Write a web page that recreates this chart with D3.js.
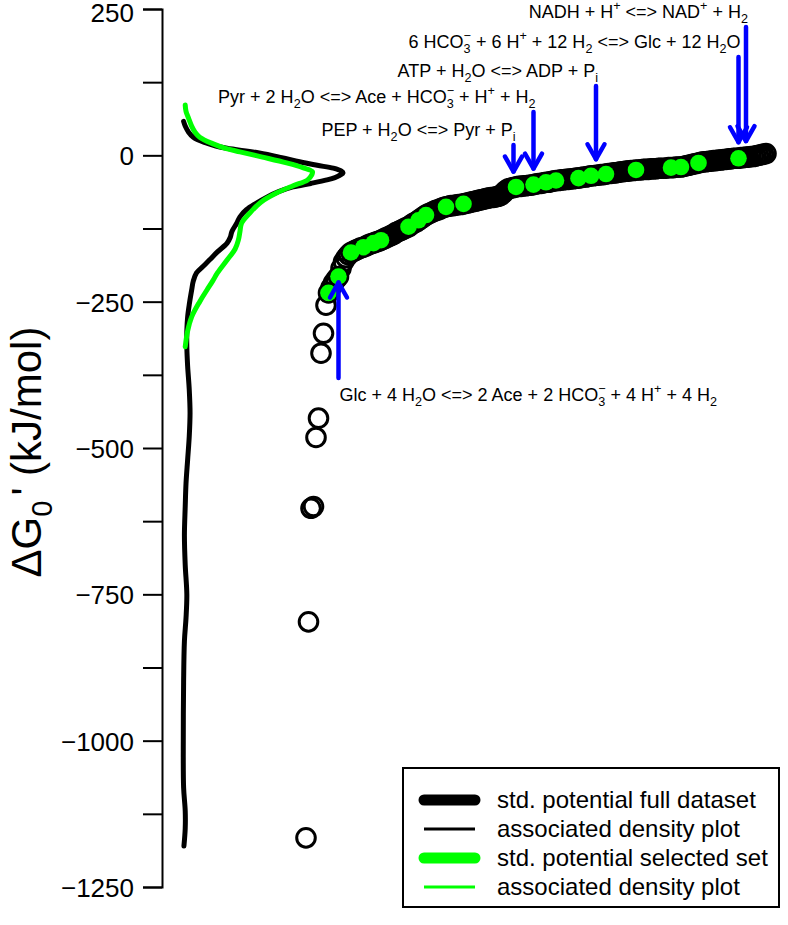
<!DOCTYPE html>
<html><head><meta charset="utf-8">
<script src="https://cdn.jsdelivr.net/npm/d3@7"></script>
<style>
body{margin:0;background:#fff}
svg{display:block}
text{font-family:"Liberation Sans",Arial,Helvetica,sans-serif;fill:#000}
</style></head>
<body><svg id="c" width="788" height="925"></svg>
<script>
// ---------------- DATA ----------------
// standard potentials of the full dataset, sorted (kJ/mol), plotted against rank
const fullValues = [
 -1166, -797, -603, -600, -482, -449, -338, -304, -256, -235,
 -226, -218, -212, -207, -193, -182, -175, -170, -166, -164,
 -162, -160, -158, -157, -155, -153, -151, -150, -148, -147,
 -145, -143, -141, -139, -137, -135, -132, -130, -128, -126,
 -124, -122, -119, -116, -114, -111, -108, -105, -102, -100,
 -98, -96, -94, -93, -91, -89, -88, -87, -86, -86,
 -85, -84, -84, -83, -82, -81, -80, -79, -78, -77,
 -76, -75, -74, -73, -72, -72, -71, -70, -68, -64,
 -60, -57, -56, -55, -54, -53, -53, -52, -52, -51,
 -51, -50, -49, -48, -48, -47, -46, -46, -45, -44,
 -43, -43, -42, -42, -41, -41, -40, -40, -39, -39,
 -38, -37, -37, -36, -35, -35, -34, -34, -33, -33,
 -32, -31, -31, -30, -30, -29, -28, -28, -27, -27,
 -26, -26, -25, -25, -25, -24, -24, -24, -23, -23,
 -23, -22, -22, -22, -22, -21, -21, -21, -20, -20,
 -20, -19, -18, -17, -16, -15, -14, -13, -12, -11,
 -11, -10, -10, -9, -9, -8, -8, -7, -7, -6,
 -6, -5, -5, -5, -4, -4, -3, -3, -2, -2,
 -1, 0, 1, 2, 3
];
// ranks (in the full dataset) of the selected set
const selectedRanks = [9, 13, 18, 23, 27, 30, 41, 45, 48, 56, 63, 84, 91, 96, 100, 109, 114, 120, 132, 146, 150, 157, 173];

// density of the full dataset: [potential, relative density]
const densityFull = [
 [58,0.01],[50,0.02],[40,0.04],[31,0.07],[22,0.14],[16,0.21],[12,0.28],[4,0.48],[-4,0.62],
 [-11,0.73],[-17,0.84],[-22,0.94],[-27,0.99],[-30,1.0],[-34,0.98],[-38,0.95],[-42,0.90],
 [-48,0.80],[-54,0.69],[-62,0.60],[-71,0.53],[-82,0.46],[-93,0.40],[-105,0.36],[-116,0.34],
 [-130,0.31],[-140,0.30],[-150,0.28],[-165,0.22],[-179,0.17],[-190,0.13],[-201,0.09],
 [-215,0.07],[-230,0.06],[-255,0.045],[-276,0.035],[-300,0.03],[-327,0.03],[-360,0.035],
 [-400,0.045],[-440,0.05],[-480,0.045],[-520,0.035],[-560,0.025],[-600,0.02],[-650,0.015],
 [-700,0.02],[-750,0.03],[-790,0.025],[-830,0.015],[-900,0.01],[-1000,0.008],[-1080,0.01],
 [-1120,0.02],[-1150,0.02],[-1180,0.012]
];
// density of the selected set
const densitySelected = [
 [86,0.02],[75,0.025],[64,0.04],[50,0.06],[40,0.08],[31,0.11],[20,0.19],[12,0.27],[6,0.36],
 [-3,0.50],[-13,0.65],[-21,0.75],[-28,0.81],[-34,0.805],[-42,0.78],[-52,0.69],[-64,0.59],
 [-80,0.49],[-99,0.42],[-116,0.37],[-130,0.36],[-145,0.35],[-160,0.33],[-179,0.28],
 [-201,0.22],[-215,0.19],[-230,0.155],[-250,0.11],[-276,0.06],[-300,0.035],[-327,0.02]
];

const tickValues = [250,125,0,-125,-250,-375,-500,-625,-750,-875,-1000,-1125,-1250];
const tickLabels = [250,0,-250,-500,-750,-1000,-1250];

// annotated reactions: rank of the pointed point and label (_{} sub, ^{} sup)
const topRanks = [83, 91, 116, 173, 176];
const topLabels = [
 "PEP + H_{2}O <=> Pyr + P_{i}",
 "Pyr + 2 H_{2}O <=> Ace + HCO_{3}^{−} + H^{+} + H_{2}",
 "ATP + H_{2}O <=> ADP + P_{i}",
 "6 HCO_{3}^{−} + 6 H^{+} + 12 H_{2} <=> Glc + 12 H_{2}O",
 "NADH + H^{+} <=> NAD^{+} + H_{2}"
];
const bottomRank = 13;
const bottomLabel = "Glc + 4 H_{2}O <=> 2 Ace + 2 HCO_{3}^{−} + 4 H^{+} + 4 H_{2}";

const legendLabels = ["std. potential full dataset","associated density plot","std. potential selected set","associated density plot"];

// ---------------- LAYOUT ----------------
const topArrowStart = [145, 112, 86, 57, 27];   // pixel y where each arrow shaft starts
const bottomArrowStart = 378;
const svg = d3.select("#c");
const y = d3.scaleLinear().domain([-1250, 250]).range([887, 9]);
const x = d3.scaleLinear().domain([0, fullValues.length - 1]).range([306, 766]);
const xd = d3.scaleLinear().domain([0, 1]).range([182, 343]);
const BLUE = "#0000ff", GREEN = "#00ff00";

// axis
const ax = svg.append("g").attr("transform", "translate(162,0)")
  .call(d3.axisLeft(y).tickValues(tickValues).tickSize(19).tickPadding(9)
    .tickFormat(d => tickLabels.includes(d) ? d3.format("")(d) : ""));
ax.select(".domain").attr("stroke", "#000").attr("stroke-width", 2);
ax.selectAll(".tick line").attr("stroke", "#000").attr("stroke-width", 2);
ax.selectAll(".tick text").attr("font-size", 26).attr("dy", d => d === 250 ? "0.48em" : "0.37em")
  .attr("font-family", "Liberation Sans, Arial, sans-serif").attr("fill", "#000");

// y title
const yt = svg.append("text").attr("transform", "translate(41,452) rotate(-90)")
  .attr("text-anchor", "middle").attr("font-size", 42);
yt.append("tspan").text("ΔG");
yt.append("tspan").attr("font-size", 29).attr("dy", 11).text("0");
yt.append("tspan").attr("dy", -11).attr("dx", 5).text("'");
yt.append("tspan").text("  (kJ/mol)");

// density curves
const dline = d3.line().x(d => xd(d[1])).y(d => y(d[0])).curve(d3.curveCatmullRom.alpha(0.5));
svg.append("path").datum(densityFull).attr("d", dline).attr("fill", "none")
  .attr("stroke", "#000").attr("stroke-width", 5).attr("stroke-linecap", "round").attr("stroke-linejoin", "round");
svg.append("path").datum(densitySelected).attr("d", dline).attr("fill", "none")
  .attr("stroke", GREEN).attr("stroke-width", 5).attr("stroke-linecap", "round").attr("stroke-linejoin", "round");

// full dataset (open circles)
svg.append("g").selectAll("circle").data(fullValues).join("circle")
  .attr("cx", (d, i) => x(i)).attr("cy", d => y(d)).attr("r", 9.3)
  .attr("fill", "none").attr("stroke", "#000").attr("stroke-width", 3);
// selected set
svg.append("g").selectAll("circle").data(selectedRanks).join("circle")
  .attr("cx", i => x(i)).attr("cy", i => y(fullValues[i])).attr("r", 8.3).attr("fill", GREEN);

// rich text helper
function rich(sel, str, fs) {
  const subOff = fs * 0.3, supOff = -fs * 0.42, small = fs * 0.7;
  const re = /_\{([^}]*)\}\^\{([^}]*)\}|_\{([^}]*)\}|\^\{([^}]*)\}|([^_^]+)/g;
  let m, cur = 0;
  while ((m = re.exec(str))) {
    if (m[1] !== undefined) {
      sel.append("tspan").attr("font-size", small).attr("dy", subOff - cur).text(m[1]); cur = subOff;
      sel.append("tspan").attr("font-size", small).attr("dx", -small * 0.556 * m[1].length)
        .attr("dy", supOff - cur).text(m[2]); cur = supOff;
    } else if (m[3] !== undefined) {
      sel.append("tspan").attr("font-size", small).attr("dy", subOff - cur).text(m[3]); cur = subOff;
    } else if (m[4] !== undefined) {
      sel.append("tspan").attr("font-size", small).attr("dy", supOff - cur).text(m[4]); cur = supOff;
    } else {
      sel.append("tspan").attr("dy", 0 - cur).text(m[5]); cur = 0;
    }
  }
}

// arrows + labels
const ag = svg.append("g");
function arrow(x0, y0, y1) {
  const dir = y1 > y0 ? 1 : -1;
  ag.append("line").attr("x1", x0).attr("x2", x0).attr("y1", y0).attr("y2", y1)
    .attr("stroke", BLUE).attr("stroke-width", 4.5).attr("stroke-linecap", "round");
  ag.append("path").attr("d", `M${x0 - 8.5},${y1 - dir * 15}L${x0},${y1}L${x0 + 8.5},${y1 - dir * 15}`)
    .attr("fill", "none").attr("stroke", BLUE).attr("stroke-width", 4.5)
    .attr("stroke-linecap", "round").attr("stroke-linejoin", "round");
}
topRanks.forEach((r, k) => {
  const px = x(r), tip = y(fullValues[r]) - 16;
  arrow(px, topArrowStart[k], tip);
  const t = svg.append("text").attr("x", px + 2).attr("y", topArrowStart[k] - 9)
    .attr("text-anchor", "end").attr("font-size", 18);
  rich(t, topLabels[k], 18);
});
{
  const px = x(bottomRank), tip = y(fullValues[bottomRank]) + 6;
  arrow(px, bottomArrowStart, tip);
  const t = svg.append("text").attr("x", px + 1).attr("y", bottomArrowStart + 23)
    .attr("text-anchor", "start").attr("font-size", 18);
  rich(t, bottomLabel, 18);
}

// legend
const lg = svg.append("g");
lg.append("rect").attr("x", 403).attr("y", 768).attr("width", 376).attr("height", 139)
  .attr("fill", "#fff").attr("stroke", "#000").attr("stroke-width", 2);
const legColors = ["#000", "#000", GREEN, GREEN];
const legWidths = [11, 3, 11, 3];
legendLabels.forEach((s, k) => {
  const yy = 800 + k * 29;
  lg.append("line").attr("x1", 424).attr("x2", 475).attr("y1", yy).attr("y2", yy)
    .attr("stroke", legColors[k]).attr("stroke-width", legWidths[k])
    .attr("stroke-linecap", legWidths[k] > 5 ? "round" : "butt");
  lg.append("text").attr("x", 497).attr("y", yy).attr("dy", "0.35em").attr("font-size", 24).text(s);
});
</script></body></html>
